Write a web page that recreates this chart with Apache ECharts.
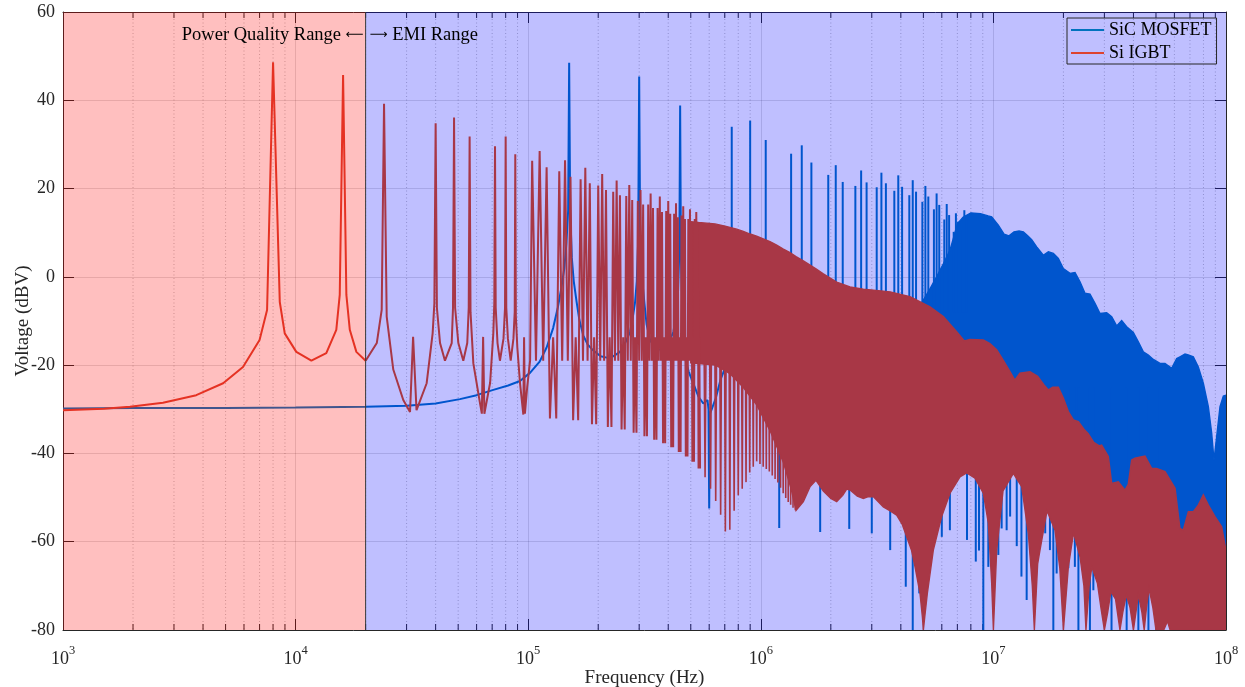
<!DOCTYPE html>
<html>
<head>
<meta charset="utf-8">
<script src="https://cdn.jsdelivr.net/npm/echarts@6/dist/echarts.min.js"></script>
<style>html,body{margin:0;padding:0;background:#fff}#c{width:1245px;height:687px}</style>
</head>
<body>
<div id="c"></div>
<script>
// ================= DATA =================
const xMinHz = 1e3, xMaxHz = 1e8;
const yMin = -80, yMax = 60, yStep = 20;
// range split: power quality | EMI
const rangeEdgesHz = [1e3, 2e4, 1e8];

// ---- Si IGBT: explicit curve 1 kHz .. 102 kHz
const redCurveF = [1000,1500,1940,2690,3740,4880,5940,7000,7540,8000,8550,8980,10070,11690,13550,14960,15480,16000,16530,17100,18250,20000,22340,23450,24000,24640,26300,29040,31040,32000,33100,36600,38830,39500,40000,40500,41780,43870,46900,47500,48000,48500,50080,52600,54700,55500,56000,56500,58100,62100,63200,64000,64800,68600,70800,71500,72000,72500,73800,75600,78300,79500,80000,80500,81800,84100,86400,87500,88000,88500,89800,92200,95300,96000,96800,99000,101900];
const redCurveV = [-30.2,-29.9,-29.4,-28.5,-26.8,-24.1,-20.4,-14.3,-7.5,48.6,-5.7,-12.8,-17,-19,-17.3,-12,-4.1,45.7,-4.1,-12,-17,-19,-15,-7.5,39.2,-9,-21,-27.9,-30.6,-13.6,-30.2,-24.1,-12.8,-6,34.8,-7,-15,-19,-15,-7,36.1,-7,-15,-19,-15,-7,31.8,-8,-19.6,-28.7,-31,-13.6,-31,-24,-12.8,-6,29.6,-7,-15,-19,-14,-7,31.8,-7,-14,-19,-14,-8,27.8,-9,-16,-24,-31.2,-13.7,-31,-25,-19];

// ---- Si IGBT: harmonics 104..544 kHz, peak and the valley that follows each
const redHarmKHz = [104,112,120,128,136,144,152,160,168,176,184,192,200,208,216,224,232,240,248,256,264,272,280,288,296,304,312,320,328,336,344,352,360,368,376,384,392,400,408,416,424,432,440,448,456,464,472,480,488,496,504,512,520,528,536,544];
const redHarmPeak = [26.3,28.5,24.8,-13.7, 23.9,26.4,22.7,-13.7, 22.1,24.7,21.2,-13.7, 20.7,23.3,19.7,-13.7, 19.3,21.8,18.5,-13.7, 18.3,20.8,17.4,-13.7, 17.2,19.7,16.4,-13.7, 16.4,18.9,15.6,-13.7, 15.6,18.2,14.7,-13.7, 14.9,17.2,14.3,-13.7, 14.3,16.7,13.5,-13.7, 13.9,16.0,13.1,-13.7, 13.1,15.3,12.4,-13.7, 13.1,14.7,11.8,-13.7];
const redHarmValley = [-19,-19,-32.1,-32.1, -19,-19,-32.5,-32.5, -19,-19,-33.4,-33.4, -19,-19,-34,-34, -19,-19,-34.6,-34.6, -19,-19,-35.3,-35.3, -19,-19,-36.1,-36.1, -19,-19,-36.9,-36.9, -19,-19,-37.7,-37.7, -19,-19,-38.6,-38.6, -19,-19,-39.7,-39.7, -19,-19,-40.7,-40.7, -19,-19,-41.9,-41.9, -19,-19,-43.4,-43.4];

// ---- Si IGBT: deep notches 576 kHz .. 1.41 MHz (tip levels), hanging from the band floor
const redNotchKHz = [576,608,640,672,704,736,768,800,832,864,896,928,960,992,1024,1056,1088,1120,1152,1184,1216,1248,1280,1312,1344,1376,1408];
const redNotchV = [-45.4,-48,-50.8,-53.9,-57.7,-57.3,-53,-49.5,-48,-46.5,-44.3,-43,-41.8,-42.4,-43,-43.5,-44.1,-45,-45.8,-46.6,-47.8,-49,-50.1,-51,-51.6,-52.3,-52.9];
const redNotchFloor = -19;

// ---- Si IGBT: dense band envelopes (0.5 .. 100 MHz)
const redTopF = [5.0e5,5.4e5,6.36e5,7.02e5,7.88e5,8.41e5,8.99e5,9.6e5,1.025e6,1.095e6,1.17e6,1.25e6,1.335e6,1.417e6,1.524e6,1.727e6,1.857e6,2.12e6,2.42e6,2.76e6,3.05e6,3.6e6,4.38e6,5.34e6,6.09e6,6.95e6,7.5e6,7.93e6,9.05e6,9.66e6,1.033e7,1.1e7,1.18e7,1.236e7,1.3e7,1.437e7,1.55e7,1.65e7,1.723e7,1.8e7,1.902e7,2.0e7,2.1e7,2.207e7,2.319e7,2.45e7,2.556e7,2.7e7,2.85e7,2.92e7,3.12e7,3.225e7,3.444e7,3.679e7,3.8e7,3.93e7,4.06e7,4.485e7,4.79e7,5.03e7,5.47e7,6.04e7,6.34e7,6.55e7,6.89e7,7.24e7,7.6e7,7.99e7,8.4e7,8.97e7,9.58e7,1e8];
const redTopV = [12.5,12.3,12.0,11.5,10.8,10.3,9.7,9.2,8.6,8.0,7.2,6.3,5.5,4.6,3.6,1.8,0.7,-1.2,-2.3,-2.8,-3.0,-3.4,-4.5,-6.8,-9.0,-12.4,-14.5,-14.2,-14.3,-15.1,-16.5,-18.8,-21.5,-23.4,-21.8,-21.5,-22.5,-24.5,-25.6,-25.0,-25.0,-27.5,-30.5,-32.4,-32.8,-34.5,-35.5,-37.5,-38.3,-38.1,-40.7,-46.8,-46.4,-48.3,-47,-41.5,-41.1,-40.6,-43.4,-43.4,-44.1,-47.9,-57.0,-57.4,-53.2,-53.2,-51.7,-49.4,-51.7,-54.3,-56.6,-62];
const redBotF = [5.0e5,6.4e5,7.4e5,8.4e5,9.6e5,1.1e6,1.25e6,1.35e6,1.417e6,1.524e6,1.63e6,1.727e6,1.857e6,2.0e6,2.12e6,2.25e6,2.34e6,2.42e6,2.6e6,2.76e6,2.9e6,3.05e6,3.364e6,3.6e6,3.838e6,4.05e6,4.238e6,4.45e6,4.603e6,4.836e6,4.95e6,5.0e6,5.07e6,5.2e6,5.517e6,5.993e6,6.508e6,7.185e6,7.676e6,8.335e6,9.051e6,9.511e6,9.831e6,1.0e7,1.033e7,1.1e7,1.218e7,1.323e7,1.413e7,1.47e7,1.5e7,1.55e7,1.586e7,1.7e7,1.84e7,1.93e7,2.0e7,2.1e7,2.21e7,2.357e7,2.45e7,2.5e7,2.58e7,2.65e7,2.8e7,2.9e7,3.0e7,3.1e7,3.2e7,3.35e7,3.5e7,3.6e7,3.73e7,3.87e7,4.0e7,4.1e7,4.2e7,4.35e7,4.45e7,4.55e7,4.67e7,4.85e7,5.0e7,5.4e7,5.6e7,5.75e7,1e8];
const redBotV = [-19.5,-20,-22,-25,-29,-35,-42,-48,-52.9,-50.9,-47.5,-46.1,-48.5,-50.2,-50.9,-49.5,-48.1,-48.3,-49.7,-50.2,-49.8,-49.8,-52.1,-53,-54,-56,-58.9,-62,-65.7,-71.7,-77,-80,-77,-71.7,-61.9,-54.3,-49,-45.3,-44.4,-45.6,-49,-55.8,-69.4,-80,-61.9,-48.5,-44.5,-47.5,-58.1,-70,-80,-65,-61.9,-53,-57.4,-66,-80,-65.7,-58,-63.4,-70,-80,-70,-65.7,-69.4,-75,-80,-76,-71.3,-73,-80,-76,-72,-75,-80,-76,-72,-76,-80,-75,-70.6,-75,-80,-80,-78,-80,-80];

// ---- SiC MOSFET: explicit curve 1 kHz .. 730 kHz
const blueCurveF = [1000,2000,5000,10000,20000,30000,40000,50900,60000,70800,82000,92200,102000,112000,120000,128000,134000,139000,143000,146000,148500,150000,151500,154000,157000,161600,166000,172600,180000,190500,205000,217500,232000,248000,261000,274000,281000,288000,293000,297000,300000,303000,307000,316000,323000,335000,360000,385000,405000,420700,432000,441000,446500,450000,453500,460000,472000,490000,513000,539000,566000,590000,596000,600000,604000,615000,640000,673000,702000,730000];
const blueCurveV = [-29.8,-29.7,-29.7,-29.6,-29.4,-29.2,-28.7,-27.7,-26.8,-25.6,-24.6,-23.6,-21.7,-19.2,-16.0,-11.6,-7.0,-2.4,2.0,7.6,15.0,48.5,15.0,4.3,-1.0,-5.8,-9.8,-13.3,-15.3,-16.7,-18.0,-18.3,-18.0,-17.0,-15.0,-12.5,-9.5,-5.8,-1.0,8.0,45.4,8.0,0.9,-6.0,-10.8,-14.5,-16.5,-16.3,-14.5,-12.5,-9.0,-3.0,6.0,38.8,5.0,-8.0,-18.3,-21.5,-24.2,-27.1,-28.7,-27.9,-30.0,-52.5,-31.0,-30.0,-27.5,-23.1,-20.7,-18.0];

// ---- SiC MOSFET: upward harmonic lines (MHz, tip dBV), rising from the floor
const blueUpMHz = [0.75,0.90,1.05,1.35,1.50,1.65,1.95,2.10,2.25,2.55,2.70,2.85,3.15,3.30,3.45,3.75,3.90,4.05,4.35,4.50,4.65,4.95,5.10,5.25,5.55,5.70,5.85,6.15,6.30,6.45,6.75,6.90,7.05,7.35,7.50,7.65];
const blueUpV = [34.0,35.4,31.0,27.9,29.8,25.9,23.1,25.3,21.5,20.6,24.1,21.4,20.3,23.6,21.2,19.5,23.0,20.4,18.5,21.9,19.3,17.0,20.6,18.2,15.3,18.9,16.3,13.0,16.5,14.0,10.2,14.4,12.5,10.6,15.1,13.6];
const blueUpFloor = -8;
// ---- SiC MOSFET: downward lines (MHz, tip dBV)
const blueDownMHz = [1.2,1.8,2.4,3.0,3.6,4.2,4.5,4.8,5.4,6.0,6.5,7.7,8.4,8.67,9.05,9.51,10.5,10.85,11.4,11.8,12.6,13.2,13.9,16.1,16.7,17.5,18.1,18.7,21.0,22.4,23.2,26.0,26.9,32.2,37.4,42.0,46.4,52.0];
const blueDownV = [-56.9,-57.8,-57.1,-58.1,-61.9,-70.2,-80,-71.7,-61.9,-58.9,-57.4,-59.6,-64.5,-62,-80,-65.7,-63,-57,-57.4,-54.3,-61,-67.9,-73.2,-57,-58.1,-61.9,-80,-67.2,-66,-65.7,-80,-80,-71,-80,-80,-80,-80,-80];
const blueDownFloor = -25;

// ---- SiC MOSFET: dense band envelopes (4.9 .. 100 MHz)
const blueTopF = [4.9e6,5.3e6,5.7e6,6.1e6,6.5e6,6.75e6,7.0e6,7.4e6,8.0e6,8.8e6,9.5e6,9.83e6,1.05e7,1.111e7,1.167e7,1.226e7,1.289e7,1.345e7,1.404e7,1.461e7,1.535e7,1.639e7,1.723e7,1.81e7,1.902e7,1.998e7,2.135e7,2.243e7,2.357e7,2.476e7,2.602e7,2.734e7,2.873e7,3.069e7,3.225e7,3.388e7,3.56e7,3.741e7,3.996e7,4.199e7,4.412e7,4.636e7,4.871e7,5.204e7,5.468e7,5.84e7,6.137e7,6.343e7,6.665e7,6.888e7,7.237e7,7.605e7,7.99e7,8.396e7,8.677e7,8.879e7,9.117e7,9.424e7,9.74e7,1e8];
const blueTopV = [-6,-3,0,3,6,9,12,13.5,14.5,14.3,13.8,13.6,11.7,9.7,9.3,10.2,10.4,10.2,9.3,8.4,6.8,4.9,5.7,5.3,4.2,1.9,0.8,1.0,-1.1,-3.7,-3.9,-6.0,-8.3,-8.1,-9.0,-11.1,-9.9,-11.3,-12.6,-14.7,-17.0,-17.7,-18.7,-19.6,-19.6,-20.7,-18.5,-18.1,-17.5,-17.7,-18.1,-20.4,-24.1,-29.4,-35.4,-41.5,-36.2,-29.4,-27.0,-26.8];
const blueBotF = [4.9e6,9.0e6,1.0e7,2.2e7,3.0e7,3.5e7,6.0e7,1e8];
const blueBotV = [-10,-20,-38,-40,-50,-55,-62,-65];

// ================= STYLE =================
const SERIF = '"Liberation Serif","Times New Roman","DejaVu Serif",serif';
const AXIS = '#262626';
const BLUE = '#0072BD';
const RED_PQ = '#DD432F';   // Si IGBT drawn under the power-quality tint
const RED = '#E04A08';      // Si IGBT drawn under the EMI tint
const GRID = 'rgba(38,38,38,0.15)';
const MINORGRID = 'rgba(26,26,26,0.28)';
const LW = 2;

// ================= BUILD =================
const redAll = redCurveF.map((f, i) => [f, redCurveV[i]]);
redHarmKHz.forEach((k, i) => {
  const f = k * 1e3;
  const fNext = i + 1 < redHarmKHz.length ? redHarmKHz[i + 1] * 1e3 : 2 * f - redHarmKHz[i - 1] * 1e3;
  redAll.push([f, redHarmPeak[i]]);
  redAll.push([(f + fNext) / 2, redHarmValley[i]]);
});
const split = rangeEdgesHz[1];
const redPQ = redAll.filter(p => p[0] <= split);
const redEMI = redAll.filter(p => p[0] >= split);
const blueLine = blueCurveF.map((f, i) => [f, blueCurveV[i]]);
const redNotches = redNotchKHz.map((k, i) => [k * 1e3, redNotchV[i]]);
const blueUps = blueUpMHz.map((m, i) => [m * 1e6, blueUpV[i]]);
const blueDowns = blueDownMHz.map((m, i) => [m * 1e6, blueDownV[i]]);

const minorX = [];
for (let e = Math.log10(xMinHz); e < Math.log10(xMaxHz); e++)
  for (let m = 2; m <= 9; m++) minorX.push([m * Math.pow(10, e), 0]);

function bandRenderer(topF, topV, botF, botV, color) {
  return function (params, api) {
    const pts = [];
    for (let i = 0; i < topF.length; i++) pts.push(api.coord([topF[i], topV[i]]));
    for (let i = botF.length - 1; i >= 0; i--) pts.push(api.coord([botF[i], botV[i]]));
    return { type: 'polygon', shape: { points: pts }, style: { fill: color, stroke: color, lineWidth: 1.4 } };
  };
}
function vlineRenderer(floor, color, w) {
  return function (params, api) {
    const f = api.value(0), t = api.value(1);
    const a = api.coord([f, floor]), b = api.coord([f, t]);
    return { type: 'line', shape: { x1: a[0], y1: a[1], x2: b[0], y2: b[1] }, style: { stroke: color, lineWidth: w } };
  };
}
const notchHalfHz = 5000;
function notchRenderer(params, api) {
  const f = api.value(0), t = api.value(1);
  const pts = [api.coord([f - notchHalfHz, redNotchFloor]), api.coord([f, t]), api.coord([f + notchHalfHz, redNotchFloor])];
  return { type: 'polyline', shape: { points: pts }, style: { stroke: RED, lineWidth: 1.6, fill: 'none' } };
}
function minorRenderer(params, api) {
  const f = api.value(0);
  const top = api.coord([f, yMax]), bot = api.coord([f, yMin]);
  return { type: 'group', children: [
    { type: 'line', shape: { x1: top[0], y1: top[1], x2: bot[0], y2: bot[1] }, style: { stroke: MINORGRID, lineWidth: 1, lineDash: [1, 2.5] } },
    { type: 'line', shape: { x1: bot[0], y1: bot[1], x2: bot[0], y2: bot[1] - 6 }, style: { stroke: AXIS, lineWidth: 1 } },
    { type: 'line', shape: { x1: top[0], y1: top[1], x2: top[0], y2: top[1] + 6 }, style: { stroke: AXIS, lineWidth: 1 } }
  ] };
}
function overlayRenderer(params, api) {
  const a0 = api.coord([rangeEdgesHz[0], yMax]), a1 = api.coord([rangeEdgesHz[1], yMin]);
  const b1 = api.coord([rangeEdgesHz[2], yMin]);
  return { type: 'group', children: [
    { type: 'rect', shape: { x: a0[0], y: a0[1], width: a1[0] - a0[0], height: a1[1] - a0[1] }, style: { fill: 'rgba(255,0,0,0.25)' } },
    { type: 'rect', shape: { x: a1[0], y: a0[1], width: b1[0] - a1[0], height: a1[1] - a0[1] }, style: { fill: 'rgba(0,0,255,0.25)' } },
    { type: 'line', shape: { x1: a1[0], y1: a0[1], x2: a1[0], y2: a1[1] }, style: { stroke: '#3a3a3a', lineWidth: 1 } }
  ] };
}
const oneItem = [[1e4, 0]];
function custom(name, data, render, z) {
  return { name, type: 'custom', coordinateSystem: 'cartesian2d', xAxisIndex: 0, yAxisIndex: 0,
    encode: { x: 0, y: 1 }, data, renderItem: render, z, silent: true, clip: true, animation: false };
}
function line(name, data, color, z) {
  return { name, type: 'line', data, xAxisIndex: 0, yAxisIndex: 0, color,
    showSymbol: false, symbol: 'none', lineStyle: { width: LW, color }, z, silent: true, clip: true, animation: false };
}

const chart = echarts.init(document.getElementById('c'));
const tickFont = { fontFamily: SERIF, fontSize: 18, color: AXIS };

chart.setOption({
  animation: false,
  backgroundColor: '#ffffff',
  grid: { left: 63, right: 19, top: 12, bottom: 57, containLabel: false, outerBoundsMode: 'none' },
  legend: {
    data: ['SiC MOSFET', 'Si IGBT'], orient: 'vertical', left: 1067, top: 18,
    icon: 'rect', itemWidth: 33, itemHeight: 2, itemGap: 5,
    padding: [3, 5, 2, 4], borderColor: AXIS, borderWidth: 1, backgroundColor: 'rgba(0,0,0,0)',
    textStyle: { fontFamily: SERIF, fontSize: 18, color: '#000', lineHeight: 18 }, z: 20
  },
  xAxis: [
    { type: 'log', logBase: 10, min: xMinHz, max: xMaxHz, position: 'bottom',
      axisLine: { show: true, onZero: false, lineStyle: { color: AXIS, width: 1 } },
      axisTick: { show: true, inside: true, length: 11, lineStyle: { color: AXIS } },
      axisLabel: {
        margin: 14,
        formatter: v => '{b|10}{s|' + Math.round(v > 20 ? Math.log10(v) : v) + '}',
        rich: {
          b: { fontFamily: SERIF, fontSize: 18, color: AXIS, lineHeight: 24, verticalAlign: 'bottom' },
          s: { fontFamily: SERIF, fontSize: 12.5, color: AXIS, lineHeight: 12, verticalAlign: 'top' }
        }
      },
      splitLine: { show: true, lineStyle: { color: GRID, width: 1 } },
      name: 'Frequency (Hz)', nameLocation: 'middle', nameGap: 39, nameMoveOverlap: false,
      nameTextStyle: { fontFamily: SERIF, fontSize: 19, color: AXIS }
    },
    { type: 'log', logBase: 10, min: xMinHz, max: xMaxHz, position: 'top',
      axisLine: { show: true, onZero: false, lineStyle: { color: AXIS, width: 1 } },
      axisTick: { show: true, inside: true, length: 11, lineStyle: { color: AXIS } },
      axisLabel: { show: false }, splitLine: { show: false } }
  ],
  yAxis: [
    { type: 'value', min: yMin, max: yMax, interval: yStep, position: 'left',
      axisLine: { show: true, onZero: false, lineStyle: { color: AXIS, width: 1 } },
      axisTick: { show: true, inside: true, length: 11, lineStyle: { color: AXIS } },
      axisLabel: Object.assign({ margin: 8 }, tickFont),
      splitLine: { show: true, lineStyle: { color: GRID, width: 1 } },
      name: 'Voltage (dBV)', nameLocation: 'middle', nameGap: 30, nameRotate: 90, nameMoveOverlap: false,
      nameTextStyle: { fontFamily: SERIF, fontSize: 19, color: AXIS }
    },
    { type: 'value', min: yMin, max: yMax, interval: yStep, position: 'right',
      axisLine: { show: true, onZero: false, lineStyle: { color: AXIS, width: 1 } },
      axisTick: { show: true, inside: true, length: 11, lineStyle: { color: AXIS } },
      axisLabel: { show: false }, splitLine: { show: false } }
  ],
  series: [
    custom('minorGrid', minorX, minorRenderer, 1),
    custom('sicBand', oneItem, bandRenderer(blueTopF, blueTopV, blueBotF, blueBotV, BLUE), 2),
    line('SiC MOSFET', blueLine, BLUE, 2),
    custom('sicUp', blueUps, vlineRenderer(blueUpFloor, BLUE, 2), 2),
    custom('sicDown', blueDowns, vlineRenderer(blueDownFloor, BLUE, 2), 2),
    line('Si IGBT', redPQ, RED_PQ, 3),
    line('igbtEMI', redEMI, RED, 3),
    custom('igbtNotch', redNotches, notchRenderer, 3),
    custom('igbtBand', oneItem, bandRenderer(redTopF, redTopV, redBotF, redBotV, RED), 3),
    custom('ranges', oneItem, overlayRenderer, 5)
  ]
});

// range annotation, anchored at the power-quality / EMI split
const splitPx = chart.convertToPixel({ xAxisIndex: 0 }, split);
const textY = chart.convertToPixel({ yAxisIndex: 0 }, 54.8);
const annRich = {
  t: { fontFamily: SERIF, fontSize: 18.5, color: '#1a1a1a' },
  a: { fontFamily: '"DejaVu Sans",sans-serif', fontSize: 12.5, color: '#1a1a1a' }
};
chart.setOption({
  graphic: [
    { type: 'text', x: splitPx - 2, y: textY, z: 6, style: { text: '{t|Power Quality Range }{a|\u27F5}', rich: annRich, align: 'right', verticalAlign: 'middle' } },
    { type: 'text', x: splitPx + 4, y: textY, z: 6, style: { text: '{a|\u27F6}{t| EMI Range}', rich: annRich, align: 'left', verticalAlign: 'middle' } }
  ]
});
</script>
</body>
</html>
